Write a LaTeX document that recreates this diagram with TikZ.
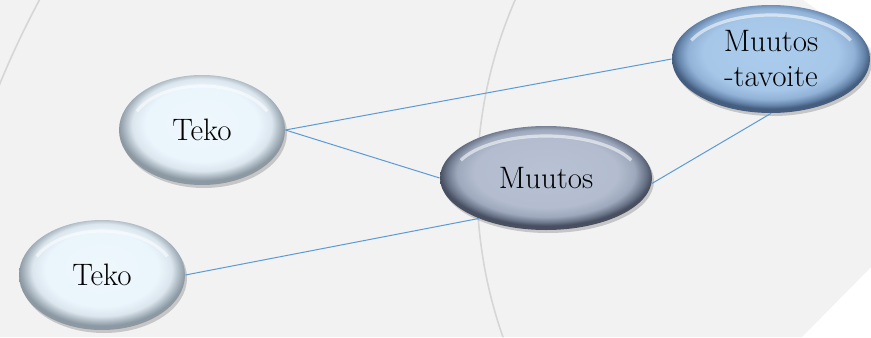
\documentclass[tikz,border=0pt]{standalone}
\usetikzlibrary{shapes.geometric,shadows}
\definecolor{linkblue}{HTML}{5B9BD5}
\definecolor{pagegray}{HTML}{F2F2F2}
\definecolor{ringgray}{HTML}{D6D6D6}
\pgfdeclareradialshading{tekoshade}{\pgfpoint{0bp}{4bp}}{
    rgb(0bp)=(0.93,0.97,0.99); rgb(17bp)=(0.92,0.96,0.99);
    rgb(21bp)=(0.86,0.90,0.93); rgb(23.5bp)=(0.66,0.71,0.75); rgb(25bp)=(0.55,0.60,0.64);
    rgb(50bp)=(0.55,0.60,0.64)}
\pgfdeclareradialshading{muutosshade}{\pgfpoint{0bp}{4bp}}{
    rgb(0bp)=(0.72,0.76,0.83); rgb(17bp)=(0.70,0.74,0.81);
    rgb(21bp)=(0.62,0.66,0.74); rgb(23.5bp)=(0.42,0.46,0.54); rgb(25bp)=(0.28,0.31,0.38);
    rgb(50bp)=(0.28,0.31,0.38)}
\pgfdeclareradialshading{tavoiteshade}{\pgfpoint{0bp}{4bp}}{
    rgb(0bp)=(0.67,0.80,0.93); rgb(17bp)=(0.65,0.78,0.91);
    rgb(21bp)=(0.57,0.70,0.84); rgb(23.5bp)=(0.40,0.52,0.67); rgb(25bp)=(0.27,0.37,0.50);
    rgb(50bp)=(0.27,0.37,0.50)}
\tikzset{
    bubble/.style={ellipse, inner sep=0pt, align=center,
                   font=\fontsize{15.5}{17.5}\selectfont,
                   drop shadow={shadow xshift=1pt, shadow yshift=-1.5pt, opacity=0.18, fill=black}},
    gloss/.style 2 args={path picture={
                   \draw[white, opacity=0.55, line width=1.6pt]
                   ([shift={(25:#1 and #2)}]path picture bounding box.center)
                   arc[start angle=25, end angle=155, x radius=#1, y radius=#2];}},
    tekobubble/.style={bubble, minimum width=83pt, minimum height=55pt, shade, shading=tekoshade,
                   gloss={36pt}{22pt}},
    muutosbubble/.style={bubble, minimum width=106pt, minimum height=52pt, shade, shading=muutosshade,
                   gloss={47pt}{21pt}},
    tavoitebubble/.style={bubble, minimum width=99pt, minimum height=54pt, shade, shading=tavoiteshade,
                   gloss={44pt}{22pt}},
    link/.style={draw=linkblue, line width=0.5pt},
    ring/.style={draw=ringgray, line width=0.8pt}
}
\begin{document}
\begin{tikzpicture}[x=0.5pt, y=-0.5pt]
                    \useasboundingbox (0,0) rectangle (871,337);
                    \fill[white] (0,0) rectangle (871,337);
                    \fill[pagegray] (0,0) -- (803,0) -- (871,48) -- (871,267) -- (802,337) -- (0,337) -- cycle;
                    \begin{scope}
                        \clip (0,0) -- (803,0) -- (871,48) -- (871,267) -- (802,337) -- (0,337) -- cycle;
                        \draw[ring] (939,184) circle[radius=231pt];
                        \draw[ring] (860,438) circle[radius=465pt];
                    \end{scope}
                    % ellipsit
                    \node[tekobubble] (teko1) at (202,130) {Teko};
                    \node[tekobubble] (teko2) at (102,275) {Teko};
                    \node[muutosbubble] (muutos) at (546,178) {Muutos};
                    \node[tavoitebubble] (tavoite) at (771,59) {Muutos\\-tavoite};
                    % yhteydet
                    \draw[link] (teko1.east) -- (tavoite.west);
                    \draw[link] (teko1.east) -- (muutos.west);
                    \draw[link] (teko2.east) -- (muutos.211);
                    \draw[link] (muutos.-3) -- (tavoite.south);
                \end{tikzpicture}
\end{document}
